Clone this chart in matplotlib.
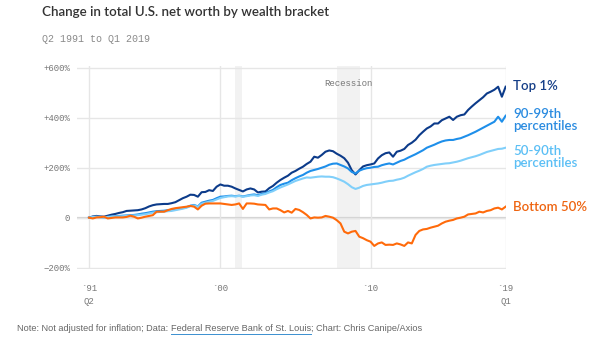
import numpy as np
import matplotlib
matplotlib.use("Agg")
import matplotlib.pyplot as plt

# quarterly change in net worth (%), Q2 1991 .. Q1 2019
top1 = [0, 5, 7,
        5, 4, 8, 12,
        15, 19, 22, 27,
        28, 29, 30, 33,
        38, 45, 50, 53,
        54, 55, 55, 58,
        62, 70, 78, 84,
        92, 91, 84, 102,
        103, 110, 107, 124,
        133, 128, 128, 124,
        117, 111, 105, 113,
        117, 113, 101, 104,
        105, 118, 127, 140,
        151, 160, 168, 180,
        187, 196, 204, 215,
        224, 244, 240, 251,
        264, 269, 266, 256,
        248, 238, 220, 190,
        173, 190, 205, 210,
        213, 217, 237, 250,
        258, 261, 244, 264,
        268, 275, 291, 300,
        312, 330, 344, 357,
        365, 377, 377, 390,
        397, 404, 391, 404,
        410, 413, 431, 445,
        458, 470, 482, 497,
        504, 512, 524, 484,
        524]

p90_99 = [0, 2, 3,
          2, 1, 3, 5,
          6, 7, 8, 9,
          10, 11, 13, 16,
          18, 21, 24, 26,
          27, 28, 30, 31,
          33, 36, 39, 42,
          48, 51, 45, 60,
          64, 68, 71, 78,
          84, 85, 87, 88,
          86, 88, 85, 88,
          91, 93, 90, 95,
          98, 105, 111, 122,
          131, 136, 140, 150,
          158, 165, 171, 180,
          187, 191, 195, 200,
          205, 212, 216, 217,
          211, 205, 197, 183,
          177, 188, 194, 198,
          200, 203, 204, 210,
          214, 217, 213, 220,
          227, 232, 240, 247,
          254, 262, 270, 280,
          286, 292, 299, 305,
          309, 311, 311, 315,
          318, 324, 330, 337,
          344, 352, 360, 368,
          376, 384, 404, 384,
          408]

p50_90 = [0, 3, 4,
          3, 2, 3, 4,
          5, 5, 6, 7,
          8, 9, 10, 12,
          14, 17, 20, 22,
          23, 24, 26, 27,
          30, 33, 36, 40,
          46, 49, 44, 56,
          60, 64, 67, 73,
          79, 82, 85, 86,
          85, 87, 84, 86,
          89, 90, 87, 92,
          95, 101, 106, 114,
          121, 127, 133, 140,
          147, 152, 157, 161,
          160, 162, 164, 165,
          164, 164, 162, 157,
          151, 144, 134, 122,
          115, 120, 127, 131,
          133, 135, 137, 140,
          144, 147, 148, 152,
          155, 160, 168, 175,
          182, 188, 195, 204,
          208, 211, 213, 215,
          217, 218, 221, 224,
          228, 233, 238, 242,
          246, 251, 257, 263,
          267, 271, 275, 276,
          280]

bottom50 = [0, -3, 1,
            2, 4, -3, -1,
            1, 1, 1, 3,
            8, 4, -3, 0,
            4, 7, 10, 24,
            24, 24, 30, 35,
            38, 40, 42, 44,
            47, 44, 33, 48,
            56, 57, 57, 57,
            57, 55, 53, 51,
            53, 57, 35, 57,
            57, 56, 53, 52,
            51, 33, 37, 37,
            30, 21, 27, 20,
            35, 31, 22, 11,
            -3, 1, 0, 1,
            7, 4, 0, -10,
            -23, -56, -63, -56,
            -53, -76, -82, -90,
            -96, -113, -103, -99,
            -109, -108, -109, -103,
            -107, -113, -99, -103,
            -69, -53, -47, -45,
            -40, -36, -32, -23,
            -16, -12, -9, -3,
            0, 4, 13, 15,
            17, 24, 21, 27,
            30, 37, 40, 33,
            44]

# quarter start as decimal year
quarters = 1991.25 + 0.25 * np.arange(len(top1))

recessions = [(2001.0, 2001.45), (2007.75, 2009.33)]
xtick_pos = [1991.25, 2000, 2010, 2019]
xtick_labels = ["`91\nQ2", "`00", "`10", "`19\nQ1"]
ytick_pos = [-200, 0, 200, 400, 600]
ytick_labels = ["\u2212200%", "0", "+200%", "+400%", "+600%"]

series = [
    (top1, "#0c3b8a", "Top 1%", 527),
    (p90_99, "#1e8fea", "90-99th\npercentiles", 391),
    (p50_90, "#80cffa", "50-90th\npercentiles", 243),
    (bottom50, "#ff6a0a", "Bottom 50%", 43),
]
label_colors = ["#163f88", "#2a8be0", "#5bbff5", "#ee6410"]

mono = "Liberation Mono"

fig = plt.figure(figsize=(6.05, 3.41), dpi=100)
ax = fig.add_axes([0.1273, 0.2114, 0.7097, 0.5936])

for a, b in recessions:
    ax.axvspan(a, b, color="#f2f2f2", lw=0, zorder=0)

ax.set_xlim(1990.45, 2019.05)
ax.set_ylim(-205, 605)
for s in ax.spines.values():
    s.set_visible(False)

ax.set_yticks(ytick_pos)
ax.set_yticklabels(ytick_labels, family=mono, fontsize=6.5, color="#777777")
ax.set_xticks(xtick_pos)
ax.set_xticklabels(xtick_labels, family=mono, fontsize=6.5, color="#777777",
                   linespacing=1.5)
ax.tick_params(axis="y", length=0, pad=5)
ax.tick_params(axis="x", length=0, pad=11)
ax.grid(True, color="#e6e6e6", lw=1, zorder=1)
ax.axhline(0, color="#d2d2d2", lw=1.6, zorder=1)

for (vals, col, lab, ly), tcol in zip(series, label_colors):
    ax.plot(quarters, vals, color=col, lw=1.5, zorder=3)
    ax.text(2019.49, ly, lab, color=tcol, fontsize=9.5, family="Lato",
            fontweight="semibold", va="center", ha="left", linespacing=1.05,
            clip_on=False)

ax.text(2008.54, 535, "Recession", family=mono, fontsize=6.5, color="#777777",
        ha="center", va="center")

# title block
fig.text(0.0694, 0.964, "Change in total U.S. net worth by wealth bracket",
         fontsize=9.6, family="Lato", fontweight="semibold", color="#333333",
         va="center")
fig.text(0.0694, 0.8856, "Q2 1991 to Q1 2019", fontsize=7.2, family=mono,
         color="#8a8a8a", va="center")

# footer with the source link underlined
fig.canvas.draw()
r = fig.canvas.get_renderer()
fy = 0.0352
parts = ["Note: Not adjusted for inflation; Data: ",
         "Federal Reserve Bank of St. Louis", "; Chart: Chris Canipe/Axios"]
x = 17 / 605
for i, p in enumerate(parts):
    t = fig.text(x, fy, p, fontsize=6.6, family="Liberation Sans",
                 color="#666666", va="center")
    bb = t.get_window_extent(r).transformed(fig.transFigure.inverted())
    if i == 1:
        fig.add_artist(plt.Line2D([bb.x0, bb.x1], [bb.y0 - 0.002, bb.y0 - 0.002],
                                  color="#3a8fd0", lw=0.7,
                                  transform=fig.transFigure))
    x = bb.x1

fig.savefig("out.png", dpi=100)
